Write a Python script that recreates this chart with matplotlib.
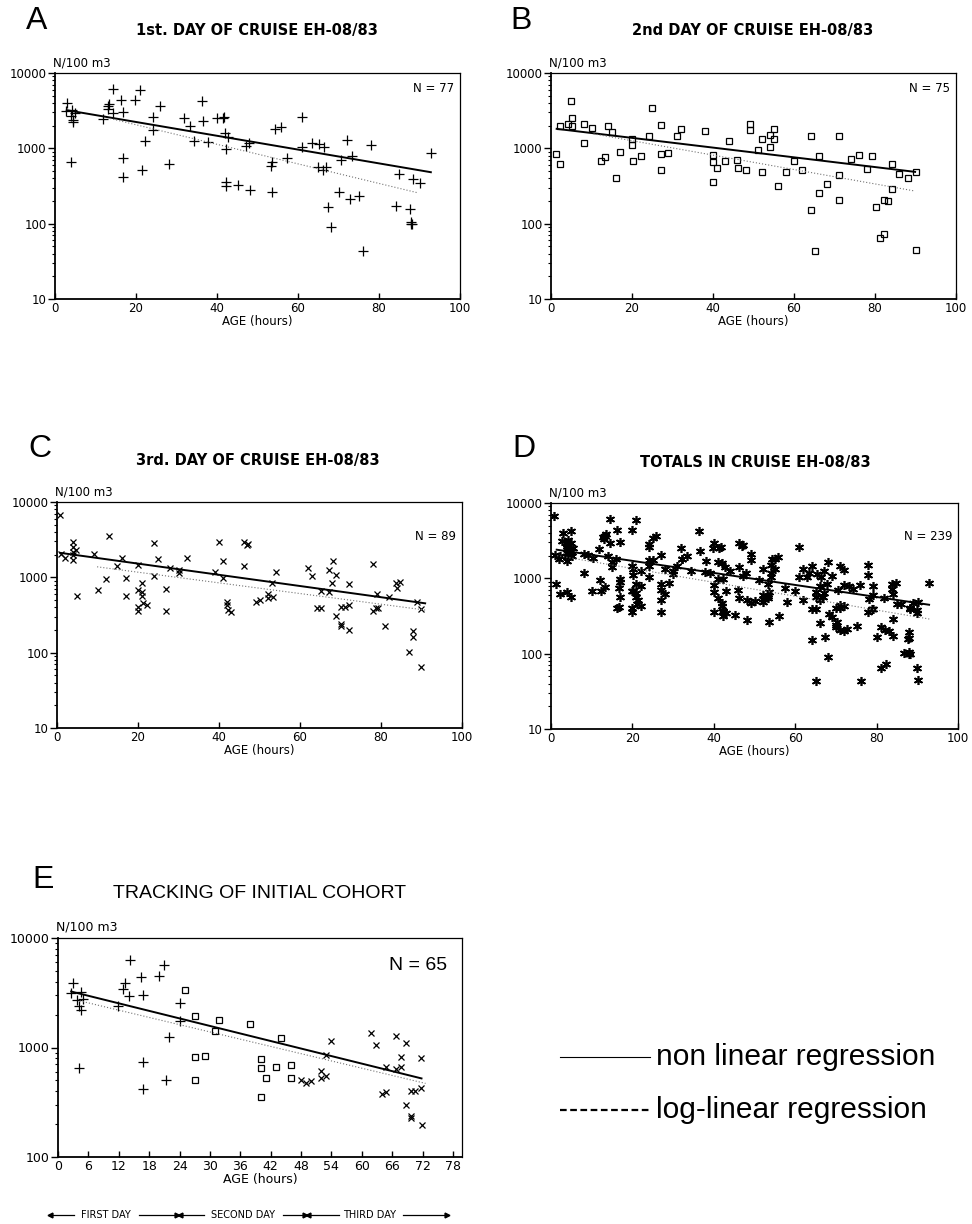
import numpy as np
import matplotlib.pyplot as plt
from matplotlib.ticker import FixedLocator, LogLocator, NullFormatter

plt.rcParams['font.family'] = ['DejaVu Sans']

# ---- data (age in hours, N/100 m3) ----
age_a = [2.9, 2.6, 4.1, 4.0, 4.4, 4.5, 4.9, 4.0, 11.9, 13.2, 13.0, 14.4, 14.4, 16.3, 16.9,
         16.7, 16.7, 19.8, 21.0, 21.4, 22.1, 24.1, 24.1, 25.9, 28.1, 31.9, 33.3, 34.4, 36.3,
         36.5, 37.9, 39.9, 41.4, 41.7, 41.9, 42.8, 42.2, 42.2, 42.2, 45.1, 48.1, 47.2, 48.0,
         53.5, 53.3, 53.5, 54.2, 55.8, 57.4, 60.9, 60.9, 63.4, 65.3, 66.3, 65.0, 66.1, 66.9,
         67.3, 68.1, 70.2, 70.6, 72.0, 72.8, 73.3, 75.1, 76.1, 78.0, 84.1, 84.9, 87.7, 87.9,
         88.2, 88.3, 90.0, 92.8, 13.4, 88.0]
n_a = [4050, 3110, 3270, 2670, 2410, 2250, 2900, 650, 2440, 3630, 3300, 6200, 2900, 4350, 3020,
       750, 420, 4440, 5900, 520, 1260, 2570, 1750, 3700, 620, 2520, 1970, 1260, 4220,
       2320, 1220, 2540, 2490, 2600, 1580, 1430, 980, 360, 320, 330, 280, 1080, 1190,
       650, 590, 260, 1780, 1930, 740, 2570, 1050, 1190, 1130, 1050, 570, 520, 570,
       164, 90, 260, 690, 1290, 212, 780, 230, 44, 1110, 173, 460, 156, 104,
       100, 390, 350, 880, 3900, 98]

age_b = [1.2, 2.2, 2.2, 4.1, 4.9, 5.3, 5.2, 8.2, 8.2, 10.2, 12.3, 13.3, 14.0, 15.1, 16.1,
         17.0, 20.1, 20.1, 20.2, 22.1, 24.2, 25.0, 27.1, 27.1, 27.1, 29.0, 31.0, 32.1, 38.1,
         40.1, 40.1, 40.1, 41.1, 43.0, 44.0, 46.0, 46.1, 48.1, 49.1, 49.1, 51.1, 52.1, 52.1,
         54.0, 54.0, 55.0, 55.0, 56.0, 58.0, 60.0, 62.0, 64.1, 64.1, 65.2, 66.2, 66.2, 68.2,
         71.0, 71.0, 71.0, 74.1, 76.0, 78.1, 79.2, 80.2, 81.2, 82.2, 82.1, 83.1, 84.1, 84.1,
         86.0, 88.1, 90.1, 90.1]
n_b = [840, 620, 1950, 2080, 4260, 2520, 1950, 2080, 1180, 1850, 680, 770, 1950, 1640, 400,
       900, 1330, 1120, 680, 800, 1450, 3430, 2010, 840, 510, 870, 1450, 1820, 1690,
       820, 660, 360, 540, 680, 1240, 700, 540, 510, 2120, 1730, 960, 1330, 490,
       1510, 1030, 1820, 1310, 320, 490, 680, 510, 1480, 154, 43, 780, 258, 333,
       1480, 440, 209, 720, 820, 530, 780, 166, 64, 73, 209, 199, 291, 620,
       460, 400, 480, 45]

age_c = [0.8, 1.1, 1.9, 4.0, 4.0, 4.0, 4.0, 4.0, 4.8, 4.9, 9.1, 10.0, 12.0, 12.8, 14.9,
         16.0, 17.0, 17.0, 20.0, 20.0, 20.0, 20.0, 21.0, 21.0, 21.0, 21.2, 22.1, 24.0, 24.0,
         25.0, 27.0, 27.0, 28.0, 30.0, 30.0, 32.1, 39.1, 40.0, 41.0, 41.0, 42.0, 42.0, 42.2,
         43.0, 46.1, 46.1, 46.9, 49.2, 50.0, 52.0, 52.1, 53.3, 53.2, 54.1, 62.0, 63.0, 64.2,
         65.2, 65.2, 67.1, 67.1, 68.1, 67.9, 69.0, 69.0, 70.0, 70.0, 70.0, 71.0, 72.0, 72.0,
         72.0, 78.0, 78.0, 78.8, 79.0, 81.1, 81.9, 83.8, 83.9, 84.8, 86.8, 87.9, 87.9, 88.9,
         89.9, 89.9, 79.2, 47.2]
n_c = [6670, 2070, 1780, 2950, 2540, 2140, 1970, 1690, 2290, 570, 2030, 680, 950, 3550, 1420,
       1780, 970, 570, 1450, 680, 410, 360, 830, 640, 570, 450, 430, 2860, 1040,
       1730, 710, 360, 1350, 1250, 1130, 1830, 1190, 2950, 1640, 970, 475, 430, 370,
       343, 1420, 2900, 2720, 475, 500, 610, 526, 553, 847, 1160, 1350, 1050, 388,
       395, 664, 1250, 644, 1660, 830, 1070, 307, 240, 226, 400, 400, 430, 805,
       200, 1500, 361, 388, 600, 226, 553, 830, 730, 870, 101, 194, 163, 466,
       380, 64, 395, 2800]

# tracking of initial cohort: first day (+), second day (squares), third day (x)
age_e1 = [2.5, 3.0, 3.7, 4.1, 4.5, 4.5, 4.9, 4.1, 11.8, 12.9, 13.3, 14.3, 14.1, 16.3, 16.8,
          16.8, 16.8, 19.9, 20.9, 21.4, 22.0, 24.0, 24.1]
n_e1 = [3135, 3870, 2720, 2415, 3180, 2210, 2760, 644, 2400, 3410, 3870, 6240, 2965, 4365, 2985,
        741, 414, 4457, 5700, 504, 1240, 2540, 1760]
age_e2 = [25.0, 27.1, 27.1, 27.1, 29.1, 31.1, 31.9, 38.0, 40.1, 40.1, 40.1, 41.1, 43.0, 44.0,
          46.0, 46.0]
n_e2 = [3365, 1958, 813, 504, 836, 1416, 1786, 1641, 780, 644, 350, 522, 667, 1230, 692, 530]
age_e3 = [48.0, 49.0, 49.9, 51.9, 51.9, 52.9, 53.0, 53.9, 61.9, 62.9, 63.9, 64.8, 64.8, 66.7,
          66.7, 67.7, 67.7, 68.7, 68.7, 69.8, 69.8, 69.8, 70.6, 71.8, 71.8, 71.9]
n_e3 = [504, 476, 497, 614, 522, 548, 853, 1156, 1368, 1055, 375, 394, 658, 1283, 631, 813,
        667, 1092, 301, 236, 229, 400, 400, 796, 423, 198]

# regression lines (end points)
nonlin_a = ([2.9, 92.8], [3210, 482])
loglin_a = ([13.6, 89.3], [2490, 259])
nonlin_b = ([1.4, 89.9], [1815, 487])
loglin_b = ([10.5, 89.9], [1556, 271])
nonlin_c = ([0.8, 90.9], [2113, 452])
loglin_c = ([9.9, 90.9], [1380, 368])
nonlin_d = ([1.4, 92.9], [2400, 446])
loglin_d = ([1.5, 93.0], [2000, 288])
nonlin_e = ([2.6, 71.8], [3245, 522])
loglin_e = ([4.3, 72.6], [2667, 470])

W, H = 972, 1224
fig = plt.figure(figsize=(W / 100, H / 100), dpi=100)


def box(l, t, r, b):
    return [l / W, 1 - b / H, (r - l) / W, (b - t) / H]


def fx(x):
    return x / W


def fy(y):
    return 1 - y / H


def setup(ax, xmax, xticks, yticks, fs=8.5):
    ax.set_yscale('log')
    ax.set_xlim(0, xmax)
    ax.set_ylim(yticks[0], yticks[-1])
    ax.set_xticks(xticks)
    ax.set_xticklabels([str(t) for t in xticks])
    ax.yaxis.set_major_locator(FixedLocator(yticks))
    ax.set_yticklabels([str(t) for t in yticks])
    ax.yaxis.set_minor_locator(LogLocator(base=10, subs=range(2, 10)))
    ax.yaxis.set_minor_formatter(NullFormatter())
    ax.tick_params(axis='x', direction='in', length=4, width=1, labelsize=fs, pad=2)
    ax.tick_params(axis='y', which='major', direction='out', length=5, width=1, labelsize=fs, pad=1)
    ax.tick_params(axis='y', which='minor', direction='out', length=2.5, width=0.8)
    for s in ['top', 'right']:
        ax.spines[s].set_linewidth(0.9)
    for s in ['left', 'bottom']:
        ax.spines[s].set_linewidth(1.3)
    ax.set_xlabel('AGE (hours)', fontsize=fs, labelpad=0)


def regress(ax, nonlin, loglin):
    ax.plot(nonlin[0], nonlin[1], color='black', lw=1.4)
    ax.plot(loglin[0], loglin[1], color='0.45', lw=0.8, ls=(0, (1, 1.8)))


xt = [0, 20, 40, 60, 80, 100]
yt = [10, 100, 1000, 10000]

panels = [
    ('A', '1st. DAY OF CRUISE EH-08/83', box(55, 73, 460, 299), 'N = 77', 88),
    ('B', '2nd DAY OF CRUISE EH-08/83', box(551, 73, 956, 299), 'N = 75', 89),
    ('C', '3rd. DAY OF CRUISE EH-08/83', box(57, 502, 462, 728), 'N = 89', 537),
    ('D', 'TOTALS IN CRUISE EH-08/83', box(551, 503, 958, 729), 'N = 239', 537),
]
letter_pos = {'A': (26, 21), 'B': (510, 21), 'C': (28, 449), 'D': (512, 449)}
title_pos = {'A': (257, 30), 'B': (753, 30), 'C': (258, 461), 'D': (755, 462)}

axes = {}
for key, title, rect, ntxt, ny in panels:
    ax = fig.add_axes(rect)
    setup(ax, 100, xt, yt)
    axes[key] = ax
    lx, ly = letter_pos[key]
    fig.text(fx(lx), fy(ly), key, fontsize=23, ha='left', va='center', family='Liberation Sans')
    tx, ty = title_pos[key]
    fig.text(fx(tx), fy(ty), title, fontsize=10.5, fontweight='bold', ha='center', va='center')
    l = rect[0] * W
    top = (1 - rect[1] - rect[3]) * H
    r = (rect[0] + rect[2]) * W
    fig.text(fx(l - 2), fy(top - 10), 'N/100 m3', fontsize=8.5, ha='left', va='center')
    fig.text(fx(r - 6), fy(ny), ntxt, fontsize=8.5, ha='right', va='center')

axes['A'].plot(age_a, n_a, ls='none', marker='+', ms=6.5, mew=0.9, color='black')
regress(axes['A'], nonlin_a, loglin_a)

axes['B'].plot(age_b, n_b, ls='none', marker='s', ms=4.5, mfc='none', mew=0.9, color='black')
regress(axes['B'], nonlin_b, loglin_b)

axes['C'].plot(age_c, n_c, ls='none', marker='x', ms=4.5, mew=0.9, color='black')
regress(axes['C'], nonlin_c, loglin_c)

# totals = all three days together
age_d = np.concatenate([age_a, age_b, age_c])
n_d = np.concatenate([n_a, n_b, n_c])
axes['D'].plot(age_d, n_d, ls='none', marker=(6, 2, 0), ms=6.5, mew=1.2, color='black')
regress(axes['D'], nonlin_d, loglin_d)

# ---- panel E ----
axe = fig.add_axes(box(58, 938, 462, 1157))
setup(axe, 79.8, list(range(0, 79, 6)), [100, 1000, 10000], fs=9)
axe.plot(age_e1, n_e1, ls='none', marker='+', ms=6.5, mew=0.9, color='black')
axe.plot(age_e2, n_e2, ls='none', marker='s', ms=4.5, mfc='none', mew=0.9, color='black')
axe.plot(age_e3, n_e3, ls='none', marker='x', ms=4.5, mew=0.9, color='black')
regress(axe, nonlin_e, loglin_e)
fig.text(fx(32), fy(880), 'E', fontsize=23, ha='left', va='center', family='Liberation Sans')
fig.text(fx(260), fy(893), 'TRACKING OF INITIAL COHORT', fontsize=14, ha='center', va='center',
         family='Liberation Sans')
fig.text(fx(56), fy(927), 'N/100 m3', fontsize=9, ha='left', va='center')
fig.text(fx(447), fy(965), 'N = 65', fontsize=14, ha='right', va='center', family='Liberation Sans')

# day arrows under panel E (pixel positions: left end, text start, text end, right end)
days = [('FIRST DAY', 50, 78, 133, 177),
        ('SECOND DAY', 180, 208, 277, 305),
        ('THIRD DAY', 308, 343, 397, 447)]
ya = 1215
for name, x0, t0, t1, x1 in days:
    fig.text(fx((t0 + t1) / 2), fy(ya), name, fontsize=7, ha='center', va='center')
    for a, b, m in [(t0 - 4, x0, '<'), (t1 + 6, x1, '>')]:
        fig.add_artist(plt.Line2D([fx(a), fx(b)], [fy(ya), fy(ya)], color='black', lw=0.9))
        fig.add_artist(plt.Line2D([fx(b)], [fy(ya)], marker=m, ms=3.5, color='black'))

# legend
fig.add_artist(plt.Line2D([fx(560), fx(650)], [fy(1057), fy(1057)], color='black', lw=0.8))
fig.text(fx(656), fy(1057), 'non linear regression', fontsize=21.5, ha='left', va='center',
         family='Liberation Sans')
fig.add_artist(plt.Line2D([fx(560), fx(650)], [fy(1110), fy(1110)], color='black', lw=1.6,
                          ls=(0, (3, 1.6))))
fig.text(fx(656), fy(1110), 'log-linear regression', fontsize=21.5, ha='left', va='center',
         family='Liberation Sans')

fig.savefig('out.png', dpi=100)
